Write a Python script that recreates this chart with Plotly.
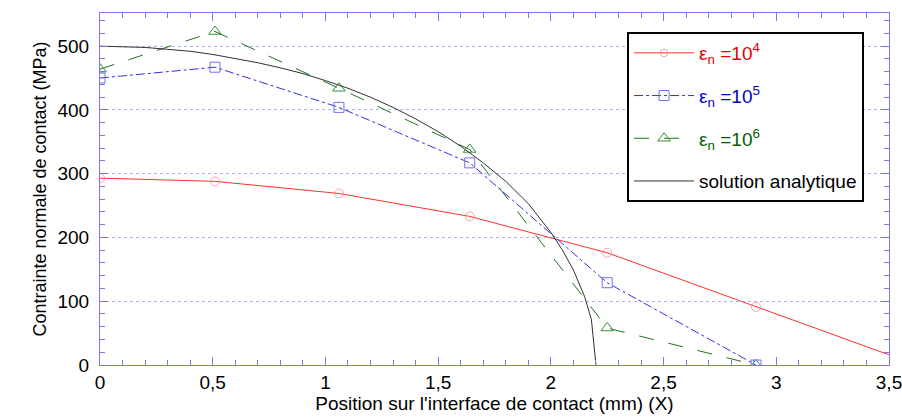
import plotly.graph_objects as go

# epsilon_n = 1e4
x_e4 = [0, 0.51, 1.06, 1.64, 2.25, 2.91, 3.5]
y_e4 = [293, 288, 269, 233, 176, 91, 16]
# epsilon_n = 1e5
x_e5 = [0, 0.51, 1.06, 1.64, 2.25, 2.91]
y_e5 = [450, 467, 404, 317, 129, 0]
# epsilon_n = 1e6
x_e6 = [0, 0.51, 1.06, 1.64, 2.25, 2.91]
y_e6 = [464, 523, 434, 338, 58, 0]
# solution analytique
x_an = [0, 0.1, 0.2, 0.3, 0.4, 0.5, 0.6, 0.7, 0.8, 0.9, 1.0, 1.1, 1.2, 1.3, 1.4, 1.5, 1.6,
        1.7, 1.8, 1.9, 2.0, 2.05, 2.1, 2.15, 2.18, 2.2]
y_an = [500, 499, 498, 495, 492, 487, 481, 474, 466, 457, 446, 434, 420, 404, 386, 366, 343,
        317, 288, 253, 208, 181, 149, 107, 71, 0]

tick_vals_x = [0, 0.5, 1, 1.5, 2, 2.5, 3, 3.5]
tick_text_x = ["0", "0,5", "1", "1,5", "2", "2,5", "3", "3,5"]
tick_vals_y = [0, 100, 200, 300, 400, 500]

fig = go.Figure()

fig.add_trace(go.Scatter(
    x=x_e4, y=y_e4, mode="lines+markers", legendgroup="a",
    name="<span style='color:#e00000'>ε<sub>n</sub> =10<sup>4</sup></span>",
    line=dict(color="#ff3030", width=1),
    marker=dict(symbol="circle-open", color="#f08888",
                size=[9, 9, 9, 9, 9, 9, 0], line=dict(width=1)),
))
fig.add_trace(go.Scatter(
    x=x_e5, y=y_e5, mode="lines+markers", legendgroup="b",
    name="<span style='color:#0000d0'>ε<sub>n</sub> =10<sup>5</sup></span>",
    line=dict(color="#3030e0", width=1, dash="dashdot"),
    marker=dict(symbol="square-open", color="#7070f0", size=10, line=dict(width=1)),
))
fig.add_trace(go.Scatter(
    x=x_e6, y=y_e6, mode="lines+markers", legendgroup="c",
    name="<span style='color:#006000'>ε<sub>n</sub> =10<sup>6</sup></span>",
    line=dict(color="#207020", width=1, dash="longdash"),
    marker=dict(symbol="triangle-up-open", color="#3c8c3c", size=11, line=dict(width=1)),
))
fig.add_trace(go.Scatter(
    x=x_an, y=y_an, mode="lines", name="solution analytique",
    legendgroup="d",
    line=dict(color="#303030", width=1),
))

axcol = "#7878e8"
fig.update_layout(
    width=902, height=417,
    margin=dict(l=100, r=13, t=13, b=52),
    paper_bgcolor="white", plot_bgcolor="white",
    font=dict(family="Liberation Sans, Arial, sans-serif", size=19, color="black"),
    showlegend=True,
    legend=dict(x=0.668, y=0.946, xanchor="left", yanchor="top",
                bordercolor="black", borderwidth=2, bgcolor="white",
                font=dict(size=19), tracegroupgap=15, itemwidth=60),
    xaxis=dict(range=[0, 3.5], tickvals=tick_vals_x, ticktext=tick_text_x,
               automargin=False, ticklabeloverflow="allow",
               showgrid=False, zeroline=False, showline=True, linecolor=axcol,
               mirror="ticks", ticks="inside", ticklen=8, tickcolor=axcol,
               minor=dict(dtick=0.1, ticks="inside", ticklen=5, tickcolor=axcol),
               title=dict(text="Position sur l'interface de contact (mm) (X)", standoff=2,
                          font=dict(size=19))),
    yaxis=dict(range=[0, 552], tickvals=tick_vals_y, automargin=False,
               ticklabeloverflow="allow",
               showgrid=True, gridcolor="#b0b0f0", griddash="dot", gridwidth=1,
               zeroline=False, showline=True, linecolor=axcol,
               mirror="ticks", ticks="inside", ticklen=8, tickcolor=axcol,
               ticklabelstandoff=6,
               minor=dict(dtick=20, ticks="inside", ticklen=5, tickcolor=axcol),
               title=dict(text="Contrainte normale de contact (MPa)", standoff=6,
                          font=dict(size=18))),
)

fig.write_html("out.html", post_script="document.body.style.margin='0';",
               config={"displayModeBar": False})
